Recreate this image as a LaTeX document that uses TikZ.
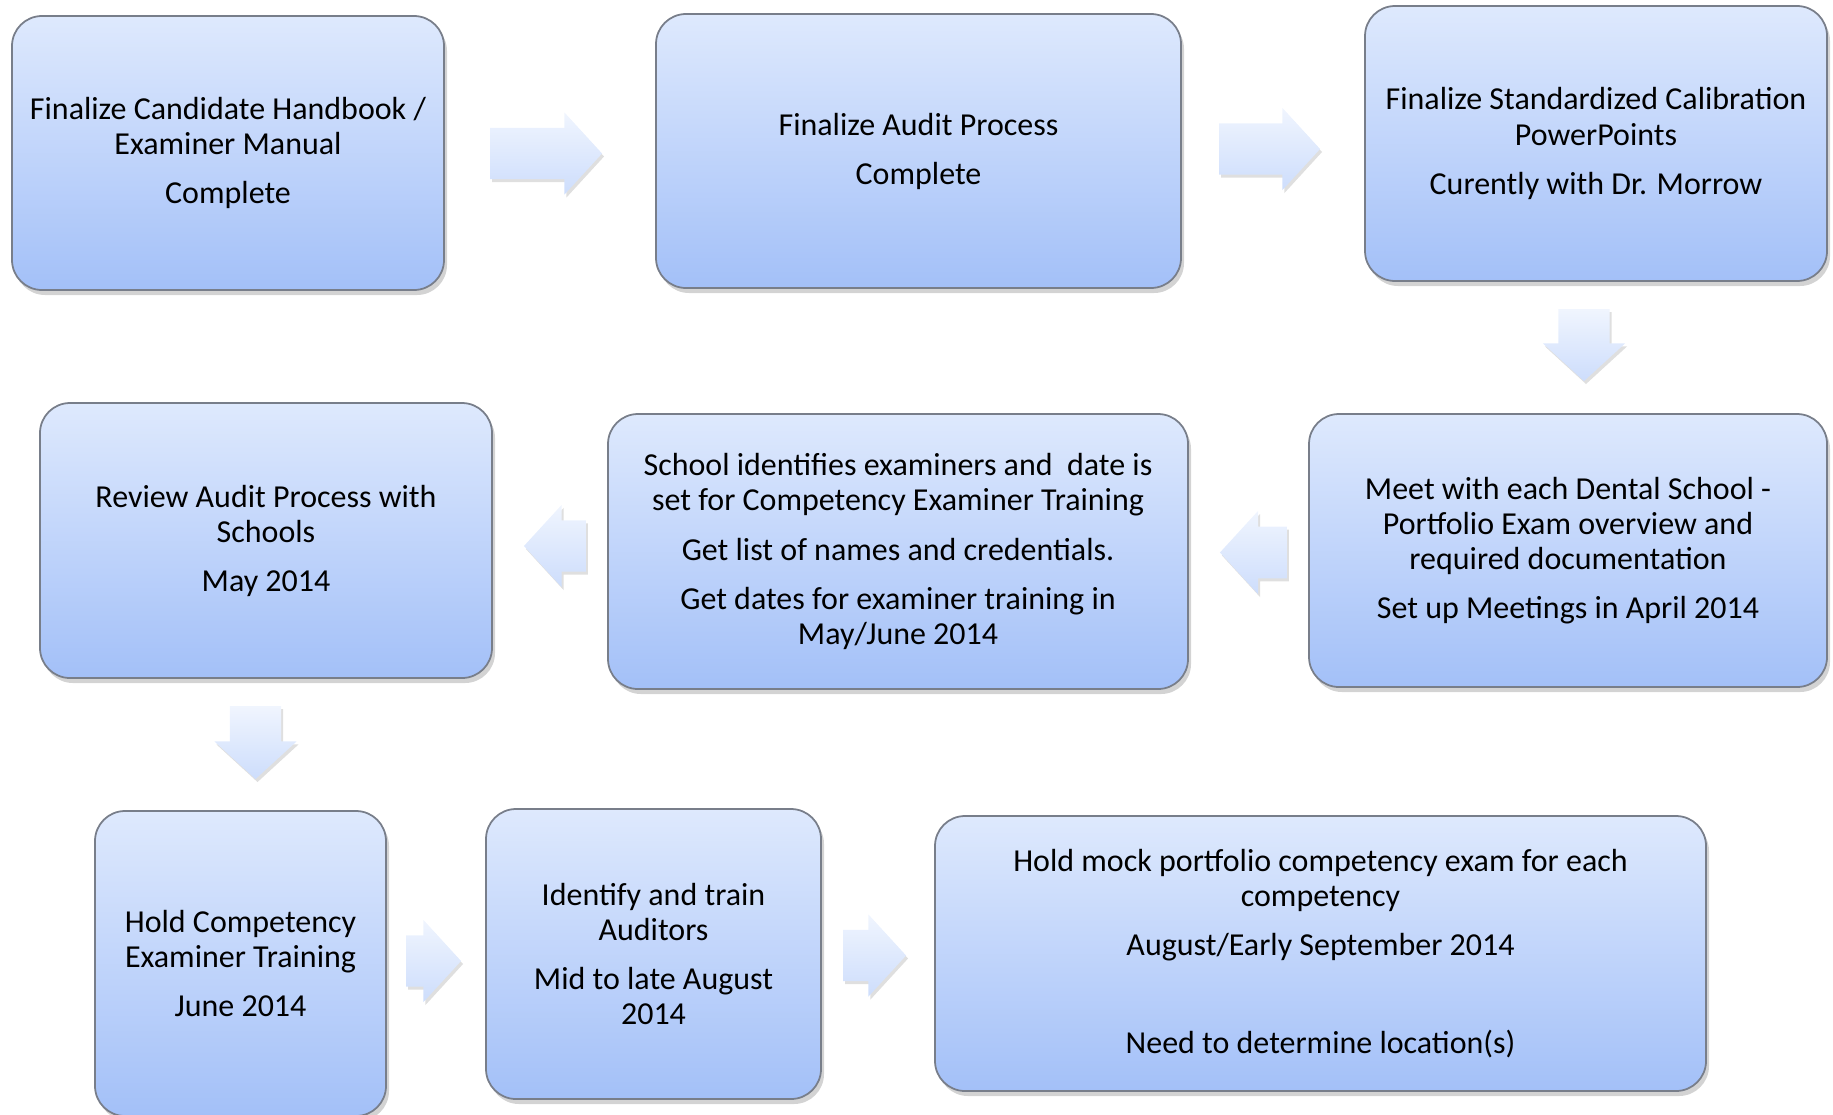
\documentclass[tikz,border=0pt]{standalone}
\usepackage{fontspec}
\setmainfont{Carlito}
\usepackage{tikz}
\usetikzlibrary{shapes.arrows, shadows}

\definecolor{boxtop}{RGB}{222,233,253}
\definecolor{boxbot}{RGB}{163,192,248}
\definecolor{boxline}{RGB}{120,126,138}
\definecolor{arrtop}{RGB}{240,245,254}
\definecolor{arrbot}{RGB}{205,221,252}

\begin{document}
\begin{tikzpicture}
\useasboundingbox (0,0) rectangle (18.33,-11.14);
%\fill[white] (0,0) rectangle (18.33,-11.14);
\begin{scope}[every node/.style={draw=boxline,line width=0.5pt,rounded corners=0.3cm,
              top color=boxtop,bottom color=boxbot,align=center,inner sep=0pt,
              font=\fontsize{9.1}{9.96}\selectfont,
              drop shadow={opacity=0.35,shadow xshift=0.03cm,shadow yshift=-0.05cm}}]
    \node[minimum width=4.32cm,minimum height=2.74cm] (A) at (2.28,-1.53)
        {Finalize Candidate Handbook /\\Examiner Manual\\[4pt]Complete};
    \node[minimum width=5.25cm,minimum height=2.74cm] (B) at (9.185,-1.51)
        {Finalize Audit Process\\[4pt]Complete};
    \node[minimum width=4.62cm,minimum height=2.75cm] (C) at (15.96,-1.435)
        {Finalize Standardized Calibration\\PowerPoints\\[4pt]Curently with Dr. Morrow};
    \node[minimum width=5.18cm,minimum height=2.73cm] (D) at (15.68,-5.505)
        {Meet with each Dental School -\\Portfolio Exam overview and\\required documentation\\[4pt]Set up Meetings in April 2014};
    \node[minimum width=5.80cm,minimum height=2.75cm] (E) at (8.98,-5.515)
        {School identifies examiners and\ \ date is\\set for Competency Examiner Training\\[4pt]Get list of names and credentials.\\[4pt]Get dates for examiner training in\\May/June 2014};
    \node[minimum width=4.52cm,minimum height=2.75cm] (F) at (2.66,-5.405)
        {Review Audit Process with\\Schools\\[4pt]May 2014};
    \node[minimum width=2.91cm,minimum height=3.05cm] (G) at (2.405,-9.635)
        {Hold Competency\\Examiner Training\\[4pt]June 2014};
    \node[minimum width=3.35cm,minimum height=2.90cm] (H) at (6.535,-9.54)
        {Identify and train\\Auditors\\[4pt]Mid to late August\\2014};
    \node[minimum width=7.71cm,minimum height=2.75cm] (I) at (13.205,-9.535)
        {Hold mock portfolio competency exam for each\\competency\\[4pt]August/Early September 2014\\[18pt]Need to determine location(s)};
\end{scope}

\begin{scope}[every node/.style={single arrow,anchor=tip,inner xsep=0pt,inner ysep=0.25cm,draw=none,
              top color=arrtop,bottom color=arrbot,
              single arrow head extend=0.155cm,single arrow tip angle=95,
              drop shadow={opacity=0.25,shadow xshift=0.02cm,shadow yshift=-0.03cm}}]
    \node[minimum height=1.12cm,minimum width=0.81cm] (AB) at (6.03,-1.535) {};
    \node[minimum height=1.01cm,minimum width=0.80cm] (BC) at (13.21,-1.49) {};
    \node[minimum height=0.72cm,minimum width=0.82cm,inner xsep=0.25cm,inner ysep=0pt,
          shape border rotate=270] (CD) at (15.84,-3.82) {};
    \node[minimum height=0.67cm,minimum width=0.83cm,shape border rotate=180] (DE) at (12.19,-5.525) {};
    \node[minimum height=0.62cm,minimum width=0.82cm,shape border rotate=180] (EF) at (5.23,-5.46) {};
    \node[minimum height=0.73cm,minimum width=0.79cm,inner xsep=0.25cm,inner ysep=0pt,
          shape border rotate=270] (FG) at (2.555,-7.80) {};
    \node[minimum height=0.55cm,minimum width=0.80cm] (GH) at (4.62,-9.61) {};
    \node[minimum height=0.63cm,minimum width=0.81cm] (HI) at (9.07,-9.555) {};
\end{scope}
\end{tikzpicture}
\end{document}
